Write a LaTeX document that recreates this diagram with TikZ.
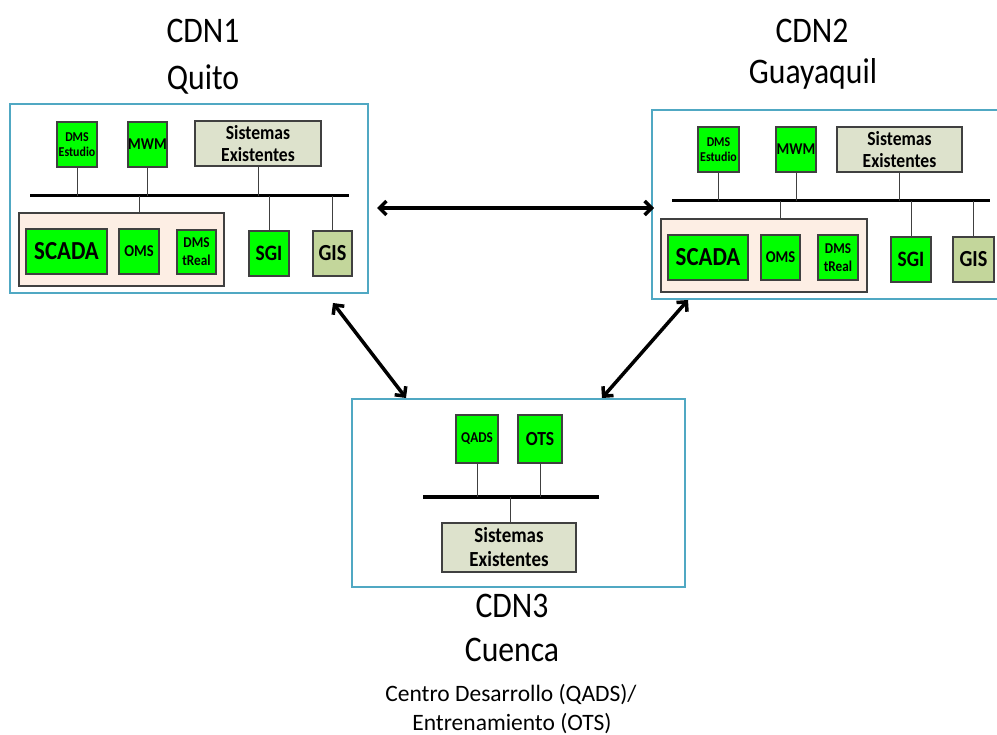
\documentclass[tikz,border=0pt]{standalone}
\usepackage{fontspec}
\setmainfont{Carlito}[FakeStretch=0.88]
\newfontfamily\plainfont{Carlito}
\usetikzlibrary{arrows.meta}
\definecolor{frameblue}{RGB}{80,168,195}
\definecolor{boxgreen}{RGB}{0,255,0}
\definecolor{sisfill}{RGB}{221,226,204}
\definecolor{gisfill}{RGB}{195,214,155}
\definecolor{pinkfill}{RGB}{253,238,228}
\definecolor{boxline}{RGB}{64,64,64}
\tikzset{
  frame/.style={draw=frameblue, line width=2pt, inner sep=0pt},
  gbox/.style={draw=boxline, line width=1.2pt, fill=boxgreen, inner sep=0pt, align=center, font=\bfseries},
  sbox/.style={draw=boxline, line width=1.2pt, fill=sisfill, inner sep=0pt, align=center, font=\bfseries\fontsize{20}{22}\selectfont},
  kbox/.style={draw=boxline, line width=1.2pt, fill=gisfill, inner sep=0pt, align=center, font=\bfseries},
  pbox/.style={draw=boxline, line width=1.2pt, fill=pinkfill, inner sep=0pt},
  bus/.style={line width=3pt},
  link/.style={line width=1pt, draw=boxline},
  dbl/.style={line width=3.5pt, {Straight Barb[length=7pt,width=14pt]}-{Straight Barb[length=7pt,width=14pt]}},
  title/.style={anchor=base, font=\fontsize{36}{44}\selectfont},
  subtitle/.style={anchor=base, font=\plainfont\fontsize{23.5}{28}\selectfont},
}
\begin{document}
\begin{tikzpicture}[x=1pt,y=-1pt]
\useasboundingbox (0,0) rectangle (997,735);
\clip (0,0) rectangle (997,735);

% ---------- titles
\node[title] (t1a) at (203,43) {CDN1};
\node[title] (t1b) at (203,90) {Quito};
\node[title] (t2a) at (812,43) {CDN2};
\node[title] (t2b) at (813,84) {Guayaquil};
\node[title] (t3a) at (512,617) {CDN3};
\node[title] (t3b) at (512,661) {Cuenca};
\node[subtitle] (t3c) at (511,701) {Centro Desarrollo (QADS)/};
\node[subtitle] (t3d) at (512,730) {Entrenamiento (OTS)};

% ---------- CDN1
\node[frame, minimum width=358pt, minimum height=189pt] (f1) at (189,198.5) {};
\node[gbox, minimum width=40pt, minimum height=45pt, font=\bfseries\fontsize{13.5}{15}\selectfont] (dmse1) at (77,144.5) {DMS\\Estudio};
\node[gbox, minimum width=39pt, minimum height=45pt, font=\bfseries\fontsize{16.5}{18}\selectfont] (mwm1) at (147.5,144.5) {MWM};
\node[sbox, minimum width=126pt, minimum height=45pt] (sis1) at (258,143.5) {Sistemas\\Existentes};
\coordinate (b1l) at (30,196);
\coordinate (b1r) at (349,196);
\node[pbox, minimum width=205pt, minimum height=73pt] (pink1) at (121.5,249.5) {};
\coordinate (p1) at (139,213);
\node[gbox, minimum width=81pt, minimum height=45pt, font=\bfseries\fontsize{26}{28}\selectfont] (scada1) at (66.5,251.5) {SCADA};
\node[gbox, minimum width=40pt, minimum height=45pt, font=\bfseries\fontsize{16.5}{18}\selectfont] (oms1) at (139,251.5) {OMS};
\node[gbox, minimum width=39pt, minimum height=44pt, font=\bfseries\fontsize{15}{18}\selectfont] (dmst1) at (196.5,252) {DMS\\tReal};
\node[gbox, minimum width=40pt, minimum height=45pt, font=\bfseries\fontsize{22}{24}\selectfont] (sgi1) at (269,253.5) {SGI};
\node[kbox, minimum width=39pt, minimum height=45pt, font=\bfseries\fontsize{23}{25}\selectfont] (gis1) at (332.5,253.5) {GIS};
\draw[bus] (b1l) -- (b1r);
\draw[link] (dmse1) -- (dmse1 |- b1l);
\draw[link] (mwm1) -- (mwm1 |- b1l);
\draw[link] (sis1) -- (sis1 |- b1l);
\draw[link] (p1 |- b1l) -- (p1);
\draw[link] (sgi1) -- (sgi1 |- b1l);
\draw[link] (gis1) -- (gis1 |- b1l);

% ---------- CDN2
\node[frame, minimum width=351pt, minimum height=189pt] (f2) at (827.5,204.5) {};
\node[gbox, minimum width=41pt, minimum height=45pt, font=\bfseries\fontsize{13.5}{15}\selectfont] (dmse2) at (718.5,149.5) {DMS\\Estudio};
\node[gbox, minimum width=40pt, minimum height=45pt, font=\bfseries\fontsize{16.5}{18}\selectfont] (mwm2) at (796,149.5) {MWM};
\node[sbox, minimum width=125pt, minimum height=45pt] (sis2) at (899.5,149.5) {Sistemas\\Existentes};
\coordinate (b2l) at (672,201);
\coordinate (b2r) at (990,201);
\node[pbox, minimum width=206pt, minimum height=73pt] (pink2) at (764,255.5) {};
\coordinate (p2) at (780,219);
\node[gbox, minimum width=80pt, minimum height=45pt, font=\bfseries\fontsize{26}{28}\selectfont] (scada2) at (708,257.5) {SCADA};
\node[gbox, minimum width=39pt, minimum height=45pt, font=\bfseries\fontsize{16.5}{18}\selectfont] (oms2) at (780.5,257.5) {OMS};
\node[gbox, minimum width=40pt, minimum height=45pt, font=\bfseries\fontsize{15}{18}\selectfont] (dmst2) at (838,257.5) {DMS\\tReal};
\node[gbox, minimum width=40pt, minimum height=45pt, font=\bfseries\fontsize{22}{24}\selectfont] (sgi2) at (911,259.5) {SGI};
\node[kbox, minimum width=41pt, minimum height=45pt, font=\bfseries\fontsize{23}{25}\selectfont] (gis2) at (973.5,259.5) {GIS};
\draw[bus] (b2l) -- (b2r);
\draw[link] (dmse2) -- (dmse2 |- b2l);
\draw[link] (mwm2) -- (mwm2 |- b2l);
\draw[link] (sis2) -- (sis2 |- b2l);
\draw[link] (p2 |- b2l) -- (p2);
\draw[link] (sgi2) -- (sgi2 |- b2l);
\draw[link] (gis2) -- (gis2 |- b2l);

% ---------- CDN3
\node[frame, minimum width=333pt, minimum height=188pt] (f3) at (518.5,493) {};
\node[gbox, minimum width=42pt, minimum height=48pt, font=\bfseries\fontsize{15}{17}\selectfont] (qads) at (477,439) {QADS};
\node[gbox, minimum width=44pt, minimum height=48pt, font=\bfseries\fontsize{20}{22}\selectfont] (ots) at (540,439) {OTS};
\coordinate (b3l) at (423,497);
\coordinate (b3r) at (599,497);
\coordinate (p3) at (510,523);
\node[sbox, minimum width=134pt, minimum height=49pt, font=\bfseries\fontsize{21.5}{24}\selectfont] (sis3) at (509,547.5) {Sistemas\\Existentes};
\draw[bus] (b3l) -- (b3r);
\draw[link] (qads) -- (qads |- b3l);
\draw[link] (ots) -- (ots |- b3l);
\draw[link] (p3 |- b3l) -- (p3);

% ---------- arrows between centres
\coordinate (h1) at (377,208);
\coordinate (h2) at (654,208);
\coordinate (d1a) at (333,303);
\coordinate (d1b) at (406,398);
\coordinate (d2a) at (688,300);
\coordinate (d2b) at (602,398);
\draw[dbl] (h1) -- (h2);
\draw[dbl] (d1a) -- (d1b);
\draw[dbl] (d2a) -- (d2b);
\end{tikzpicture}
\end{document}
